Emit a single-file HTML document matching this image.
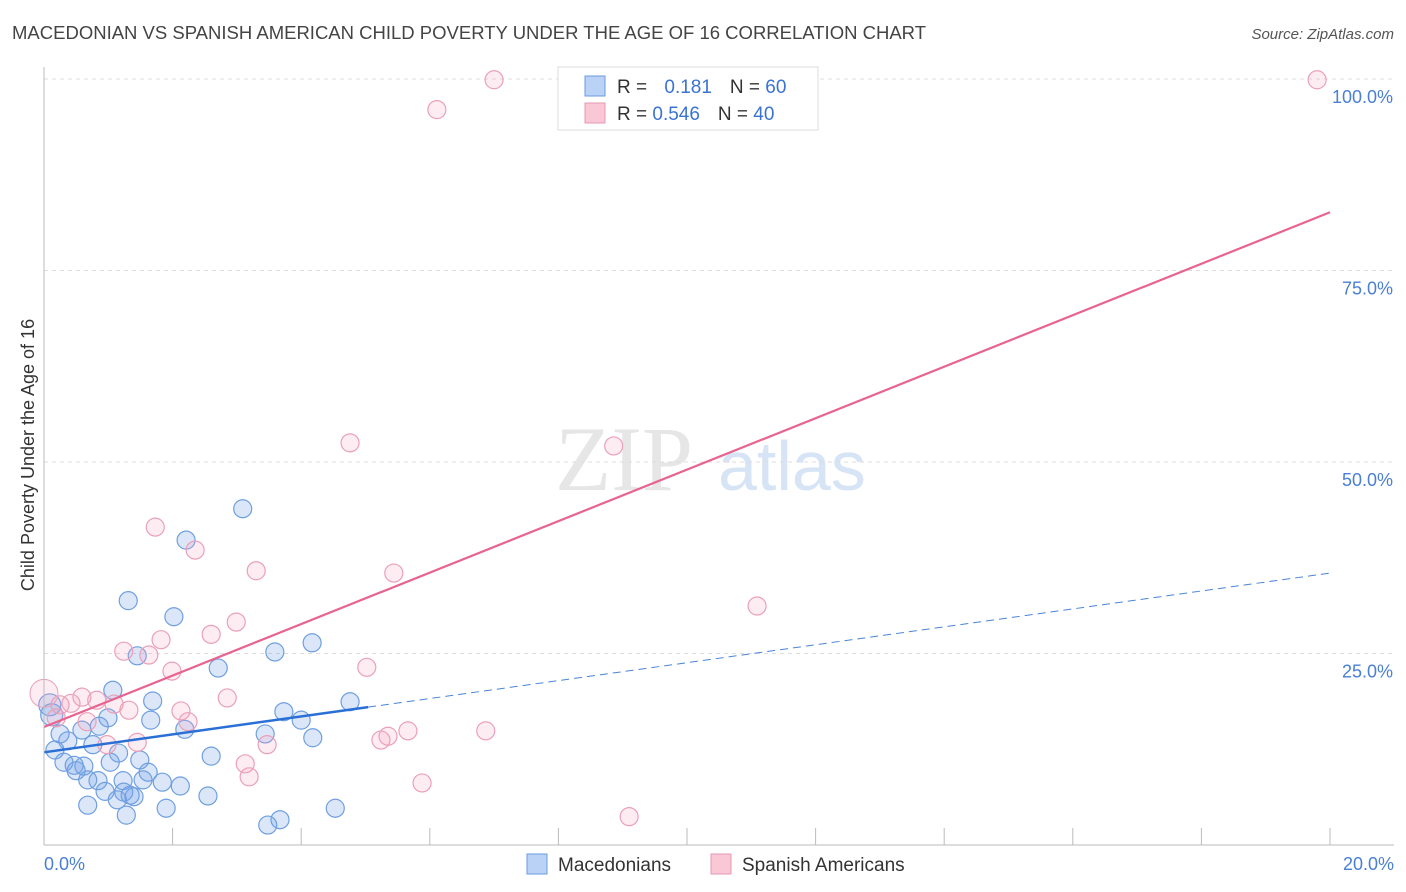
<!DOCTYPE html>
<html><head><meta charset="utf-8"><style>
body{margin:0;background:#fff;font-family:"Liberation Sans",sans-serif}
svg{display:block}
</style></head><body>
<svg id="chart" width="1406" height="892" xmlns="http://www.w3.org/2000/svg">
<text x="12" y="39" font-size="18.5" fill="#444" textLength="914" lengthAdjust="spacingAndGlyphs">MACEDONIAN VS SPANISH AMERICAN CHILD POVERTY UNDER THE AGE OF 16 CORRELATION CHART</text>
<text x="1394" y="39" font-size="15" fill="#555" text-anchor="end" font-style="italic">Source: ZipAtlas.com</text>
<g><text x="555" y="490" font-size="92" fill="#e6e6e6" font-family="Liberation Serif,serif">ZIP</text><text x="718" y="490" font-size="70" fill="#d6e4f6">atlas</text></g>
<g id="grid"></g><g id="ticks"></g><g id="marks"></g>
<line x1="44" y1="67" x2="44" y2="845" stroke="#bbb"/>
<line x1="44" y1="845" x2="1394" y2="845" stroke="#bbb"/>
<text transform="translate(34,455) rotate(-90)" font-size="18" fill="#333" text-anchor="middle">Child Poverty Under the Age of 16</text>
<text x="44" y="870" font-size="18" fill="#4a7fd4">0.0%</text>
<text x="1394" y="870" font-size="18" fill="#4a7fd4" text-anchor="end">20.0%</text>
<g>
<rect x="558" y="67" width="260" height="63" fill="#fff" stroke="#ddd"/>
<rect x="585" y="76" width="20" height="20" fill="#b9d2f5" stroke="#6a9be0"/>
<rect x="585" y="103" width="20" height="20" fill="#f9c7d6" stroke="#e899b3"/>
<text x="617" y="93" font-size="19" fill="#333">R = <tspan fill="#3b73d1" dx="12">0.181</tspan><tspan dx="18">N = </tspan><tspan fill="#3b73d1">60</tspan></text>
<text x="617" y="120" font-size="19" fill="#333">R = <tspan fill="#3b73d1">0.546</tspan><tspan dx="18">N = </tspan><tspan fill="#3b73d1">40</tspan></text>
</g>
<g>
<rect x="527" y="854" width="20" height="20" fill="#b9d2f5" stroke="#6a9be0"/>
<text x="558" y="871" font-size="19" fill="#333">Macedonians</text>
<rect x="711" y="854" width="20" height="20" fill="#f9c7d6" stroke="#e899b3"/>
<text x="742" y="871" font-size="19" fill="#333">Spanish Americans</text>
</g>
</svg>
<script>
const yTicks=[25,50,75,100];
const yTickLabels=["25.0%","50.0%","75.0%","100.0%"];
const blueX=[3.09,2.21,1.31,2.02,1.45,2.71,3.59,4.17,1.07,1.69,4.76,3.73,0.995,1.66,4.0,0.86,2.19,3.44,4.18,0.25,0.59,0.37,0.76,0.17,1.16,2.6,1.49,1.03,0.31,0.47,0.62,0.5,1.62,1.23,0.68,0.84,1.84,2.12,1.54,0.95,1.24,1.34,2.55,1.14,1.4,0.68,1.9,4.53,1.28,3.67,3.48,0.09,0.12];
const blueY=[43.9,39.8,31.9,29.8,24.7,23.1,25.2,26.4,20.2,18.8,18.7,17.4,16.6,16.3,16.3,15.5,15.1,14.5,14.0,14.5,15.0,13.6,13.1,12.4,12.0,11.6,11.1,10.8,10.8,10.4,10.3,9.7,9.5,8.4,8.5,8.4,8.2,7.7,8.5,7.0,6.9,6.5,6.4,5.9,6.3,5.2,4.8,4.8,3.9,3.3,2.6,18.3,17.0];
const pinkX=[7.0,19.8,6.11,4.76,8.86,1.73,2.35,3.3,5.44,11.09,2.99,2.6,1.82,1.24,1.63,5.02,1.99,2.85,0.59,0.82,0.42,1.09,1.32,2.13,0.25,0.67,2.24,6.87,5.66,5.35,5.24,1.45,3.47,0.98,3.13,3.19,5.88,9.1,0.19];
const pinkY=[99.9,99.9,96.0,52.5,52.1,41.5,38.5,35.8,35.5,31.2,29.1,27.5,26.8,25.3,24.8,23.2,22.7,19.2,19.3,18.9,18.5,18.4,17.6,17.5,18.3,16.1,16.1,14.9,14.9,14.2,13.7,13.4,13.1,13.1,10.6,8.9,8.1,3.7,16.6];
const blueTrend=[12.1,35.5]; const blueSolidEnd=5.04;
const pinkTrend=[15.4,82.6];
const NS="http://www.w3.org/2000/svg";
const sx=v=>44+v/20*1286, sy=v=>845-v/100*766;
function mk(tag,attrs,parent){const e=document.createElementNS(NS,tag);for(const k in attrs)e.setAttribute(k,attrs[k]);document.getElementById(parent).appendChild(e);return e;}
yTicks.forEach((t,i)=>{
 const l=mk('line',{x1:44,x2:1394,y1:sy(t),y2:sy(t),stroke:'#ddd','stroke-dasharray':'4,4'},'grid');
 
 
 const tx=mk('text',{x:1393,y:sy(t)+24,'font-size':18,fill:'#4a7fd4','text-anchor':'end'},'grid');tx.textContent=yTickLabels[i];
 
 
});
for(let k=1;k<=10;k++){const x=44+k*128.6;const l=mk('line',{x1:x,x2:x,y1:828,y2:845,stroke:'#bbb'},'ticks');
 
 }
blueX.forEach((v,i)=>{const c=mk('circle',{cx:sx(v),cy:sy(blueY[i]),r:(i>=51?11:9),fill:'rgba(110,160,230,0.25)',stroke:'#6f9fe0','stroke-width':1.2},'marks');
 
 });
pinkX.forEach((v,i)=>{const c=mk('circle',{cx:sx(v),cy:sy(pinkY[i]),r:9,fill:'rgba(245,160,190,0.2)',stroke:'#eba0b8','stroke-width':1.2},'marks');
 
 });
const big=mk('circle',{cx:sx(0),cy:sy(19.8),r:14,fill:'rgba(245,160,190,0.2)',stroke:'#eba0b8'},'marks');


const by=x=>blueTrend[0]+(blueTrend[1]-blueTrend[0])*x/20;
const bs=mk('line',{x1:sx(0),y1:sy(by(0)),x2:sx(blueSolidEnd),y2:sy(by(blueSolidEnd)),stroke:'#2a6fd6','stroke-width':2.5},'marks');


const bd=mk('line',{x1:sx(blueSolidEnd),y1:sy(by(blueSolidEnd)),x2:sx(20),y2:sy(by(20)),stroke:'#4a84d8','stroke-width':1,'stroke-dasharray':'8,5'},'marks');


const pl=mk('line',{x1:sx(0),y1:sy(pinkTrend[0]),x2:sx(20),y2:sy(pinkTrend[1]),stroke:'#e8648f','stroke-width':2.2},'marks');


</script>
</body></html>
